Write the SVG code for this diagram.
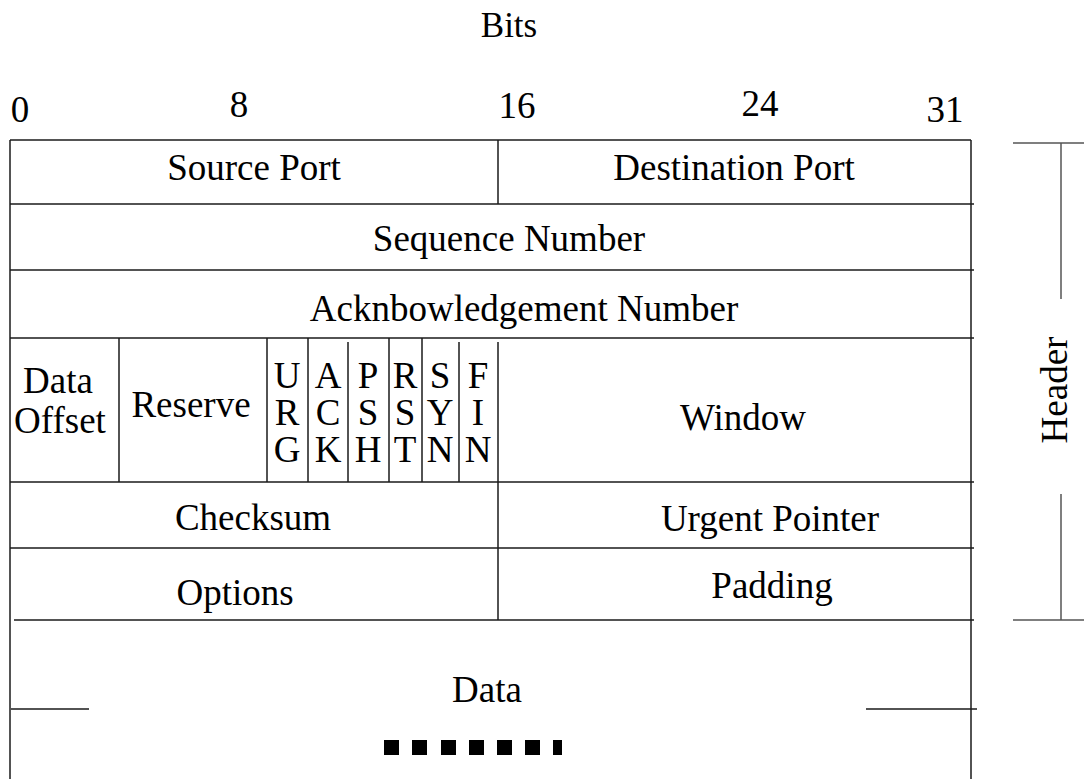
<svg xmlns="http://www.w3.org/2000/svg" width="1084" height="779" viewBox="0 0 1084 779">
  <style>
    .ln { stroke: #1a1a1a; stroke-width: 1.5; fill: none; }
    .br { stroke: #555; stroke-width: 1.5; fill: none; }
    text { font-family: "Liberation Serif", "Times New Roman", serif; font-size: 37px; fill: #000; }
    .c { text-anchor: middle; }
    .t { font-size: 35px; }
  </style>
  <rect width="1084" height="779" fill="#fff"/>

  <!-- bit scale -->
  <g id="scale">
    <text class="c t" x="509" y="37">Bits</text>
    <text class="c" x="20" y="122">0</text>
    <text class="c" x="239" y="117">8</text>
    <text class="c" x="517" y="118">16</text>
    <text class="c" x="760" y="116">24</text>
    <text class="c" x="945" y="122">31</text>
  </g>

  <!-- grid lines of the segment layout -->
  <g id="connectors">
    <line class="ln" x1="10" y1="140" x2="971" y2="140"/>
    <line class="ln" x1="10" y1="140" x2="10" y2="779"/>
    <line class="ln" x1="971" y1="140" x2="971" y2="779"/>
    <line class="ln" x1="10" y1="204" x2="974" y2="204"/>
    <line class="ln" x1="10" y1="270" x2="974" y2="270"/>
    <line class="ln" x1="10" y1="338" x2="974" y2="338"/>
    <line class="ln" x1="10" y1="482" x2="974" y2="482"/>
    <line class="ln" x1="10" y1="548" x2="974" y2="548"/>
    <line class="ln" x1="14" y1="620" x2="974" y2="620"/>
    <!-- half-word divider -->
    <line class="ln" x1="498" y1="140" x2="498" y2="204"/>
    <line class="ln" x1="498" y1="342" x2="498" y2="482"/>
    <line class="ln" x1="498" y1="482" x2="498" y2="620"/>
    <!-- offset / reserve / flag columns -->
    <line class="ln" x1="119" y1="338" x2="119" y2="482"/>
    <line class="ln" x1="267" y1="338" x2="267" y2="482"/>
    <line class="ln" x1="308" y1="338" x2="308" y2="482"/>
    <line class="ln" x1="348" y1="342" x2="348" y2="482"/>
    <line class="ln" x1="389" y1="338" x2="389" y2="482"/>
    <line class="ln" x1="422" y1="338" x2="422" y2="482"/>
    <line class="ln" x1="459" y1="342" x2="459" y2="482"/>
    <!-- data break marks -->
    <line class="ln" x1="11" y1="709" x2="89" y2="709"/>
    <line class="ln" x1="866" y1="709" x2="977" y2="709"/>
  </g>

  <g id="n-source-port"><text class="c" x="254" y="180">Source Port</text></g>
  <g id="n-destination-port"><text class="c" x="734" y="180">Destination Port</text></g>
  <g id="n-sequence-number"><text class="c" x="509" y="251">Sequence Number</text></g>
  <g id="n-ack-number"><text class="c" x="524" y="321">Acknbowledgement Number</text></g>
  <g id="n-data-offset">
    <text class="c" x="58" y="393">Data</text>
    <text class="c" x="60" y="433">Offset</text>
  </g>
  <g id="n-reserve"><text class="c" x="191" y="417">Reserve</text></g>
  <g id="n-flags">
    <text class="c" x="287" y="388">U</text><text class="c" x="287" y="425">R</text><text class="c" x="287" y="462">G</text>
    <text class="c" x="328" y="388">A</text><text class="c" x="328" y="425">C</text><text class="c" x="328" y="462">K</text>
    <text class="c" x="368" y="388">P</text><text class="c" x="368" y="425">S</text><text class="c" x="368" y="462">H</text>
    <text class="c" x="405" y="388">R</text><text class="c" x="405" y="425">S</text><text class="c" x="405" y="462">T</text>
    <text class="c" x="440" y="388">S</text><text class="c" x="440" y="425">Y</text><text class="c" x="440" y="462">N</text>
    <text class="c" x="478" y="388">F</text><text class="c" x="478" y="425">I</text><text class="c" x="478" y="462">N</text>
  </g>
  <g id="n-window"><text class="c" x="743" y="430">Window</text></g>
  <g id="n-checksum"><text class="c" x="253" y="530">Checksum</text></g>
  <g id="n-urgent-pointer"><text class="c" x="770" y="531">Urgent Pointer</text></g>
  <g id="n-options"><text class="c" x="235" y="605">Options</text></g>
  <g id="n-padding"><text class="c" x="772" y="598">Padding</text></g>
  <g id="n-data">
    <text class="c" x="487" y="702">Data</text>
    <g fill="#000">
      <rect x="384" y="740" width="15" height="15"/>
      <rect x="412" y="740" width="15" height="15"/>
      <rect x="441" y="740" width="15" height="15"/>
      <rect x="469" y="740" width="15" height="15"/>
      <rect x="497" y="740" width="15" height="15"/>
      <rect x="525" y="740" width="15" height="15"/>
      <rect x="553" y="740" width="9" height="15"/>
    </g>
  </g>

  <!-- header bracket -->
  <g id="n-header">
    <line class="br" x1="1013" y1="143" x2="1084" y2="143"/>
    <line class="br" x1="1061" y1="143" x2="1061" y2="299"/>
    <line class="br" x1="1061" y1="494" x2="1061" y2="620"/>
    <line class="br" x1="1013" y1="620" x2="1084" y2="620"/>
    <text class="c" transform="translate(1067 390) rotate(-90)">Header</text>
  </g>
</svg>
